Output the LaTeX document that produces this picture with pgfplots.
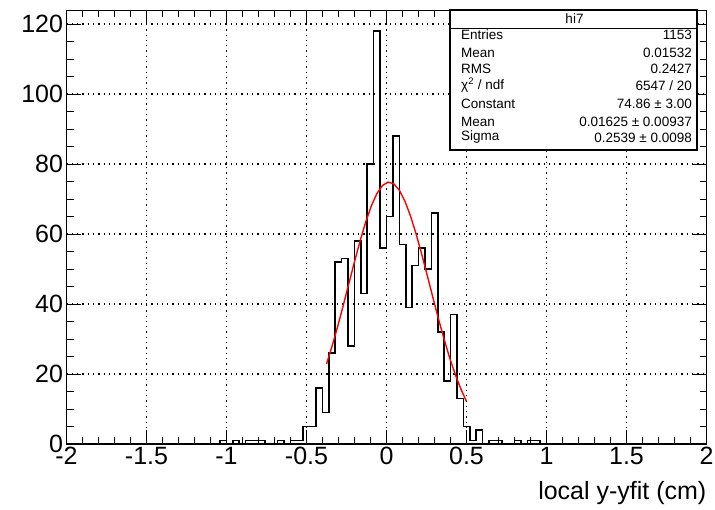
\documentclass[border=0pt]{standalone}
\usepackage{pgfplots}
\pgfplotsset{compat=1.18}
\usepackage{fontspec}
\setmainfont{Liberation Sans}

\begin{document}
\begin{tikzpicture}
\useasboundingbox (-66.5pt,-65pt) rectangle (648.5pt,444pt);
\begin{axis}[
  at={(0pt,0pt)}, anchor=south west,
  scale only axis, width=640pt, height=433.6pt,
  xmin=-2, xmax=2, ymin=0, ymax=123.9,
  xtick={-2,-1.5,-1,-0.5,0,0.5,1,1.5,2},
  xticklabels={-2,-1.5,-1,-0.5,0,0.5,1,1.5,2},
  ytick={0,20,40,60,80,100,120},
  yticklabels={0,20,40,60,80,100,120},
  minor x tick num=4, minor y tick num=3,
  tick align=inside,
  major tick length=14pt, minor tick length=7pt,
  tick style={black, line width=1pt},
  grid=major,
  major grid style={black, line width=1.3pt, dash pattern=on 1.3pt off 4pt},
  axis line style={line width=1.3pt},
  tick label style={font=\fontsize{25}{30}\selectfont},
]
\addplot[const plot, black, line width=1.6pt, mark=none] coordinates {
(-1.08,0) (-1.04,1) (-1.00,0) (-0.96,1) (-0.92,0) (-0.88,1) (-0.84,1) (-0.80,1)
(-0.76,0) (-0.72,0) (-0.68,1) (-0.64,0) (-0.60,1) (-0.56,1) (-0.52,5) (-0.48,5)
(-0.44,16) (-0.40,9) (-0.36,26) (-0.32,52) (-0.28,53) (-0.24,28) (-0.20,58)
(-0.16,43) (-0.12,80) (-0.08,118) (-0.04,56) (0.00,65) (0.04,88) (0.08,57)
(0.12,39) (0.16,51) (0.20,56) (0.24,50) (0.28,66) (0.32,32) (0.36,18) (0.40,37)
(0.44,13) (0.48,5) (0.52,1) (0.56,4) (0.60,0) (0.64,1) (0.68,1) (0.72,0) (0.76,0)
(0.80,1) (0.84,0) (0.88,1) (0.92,1) (0.96,0) (1.00,0)
};
\addplot[red, line width=1.4pt, mark=none] coordinates {
(-0.375,22.84) (-0.34,27.97) (-0.305,33.62) (-0.27,39.65) (-0.235,45.88)
(-0.2,52.09) (-0.165,58.02) (-0.13,63.42) (-0.095,68.01) (-0.06,71.56)
(-0.025,73.88) (0.01,74.84) (0.045,74.38) (0.08,72.54) (0.115,69.41)
(0.15,65.16) (0.185,60.03) (0.22,54.25) (0.255,48.11) (0.29,41.86)
(0.325,35.74) (0.36,29.94) (0.395,24.60) (0.43,19.84) (0.465,15.70) (0.5,12.19)
};
\end{axis}
% x axis title
\node[anchor=east, font=\fontsize{25}{30}\selectfont, inner sep=0pt] at (640pt,-49pt) {local y-yfit (cm)};
% stats box
\draw[line width=1.3pt, fill=white] (383.5pt,294pt) rectangle (630.5pt,434pt);
\draw[line width=1.3pt] (383.5pt,415.7pt) -- (630.5pt,415.7pt);
\begin{scope}[every node/.style={font=\fontsize{13.5}{15}\selectfont, inner sep=0pt}]
\node at (508pt,425pt) {hi7};
\node[anchor=west] at (394.5pt,409pt) {Entries};
\node[anchor=west] at (394.5pt,391pt) {Mean};
\node[anchor=west] at (394.5pt,375pt) {RMS};
\node[anchor=west] at (394.5pt,359pt) {χ\textsuperscript{2} / ndf};
\node[anchor=west] at (394.5pt,340pt) {Constant};
\node[anchor=west] at (394.5pt,322pt) {Mean};
\node[anchor=west] at (394.5pt,307pt) {Sigma};
\node[anchor=east] at (625.5pt,409pt) {1153};
\node[anchor=east] at (625.5pt,391pt) {0.01532};
\node[anchor=east] at (625.5pt,375pt) {0.2427};
\node[anchor=east] at (625.5pt,358pt) {6547 / 20};
\node[anchor=east] at (625.5pt,340pt) {74.86 ± 3.00};
\node[anchor=east] at (625.5pt,322pt) {0.01625 ± 0.00937};
\node[anchor=east] at (625.5pt,306pt) {0.2539 ± 0.0098};
\end{scope}
\end{tikzpicture}
\end{document}
